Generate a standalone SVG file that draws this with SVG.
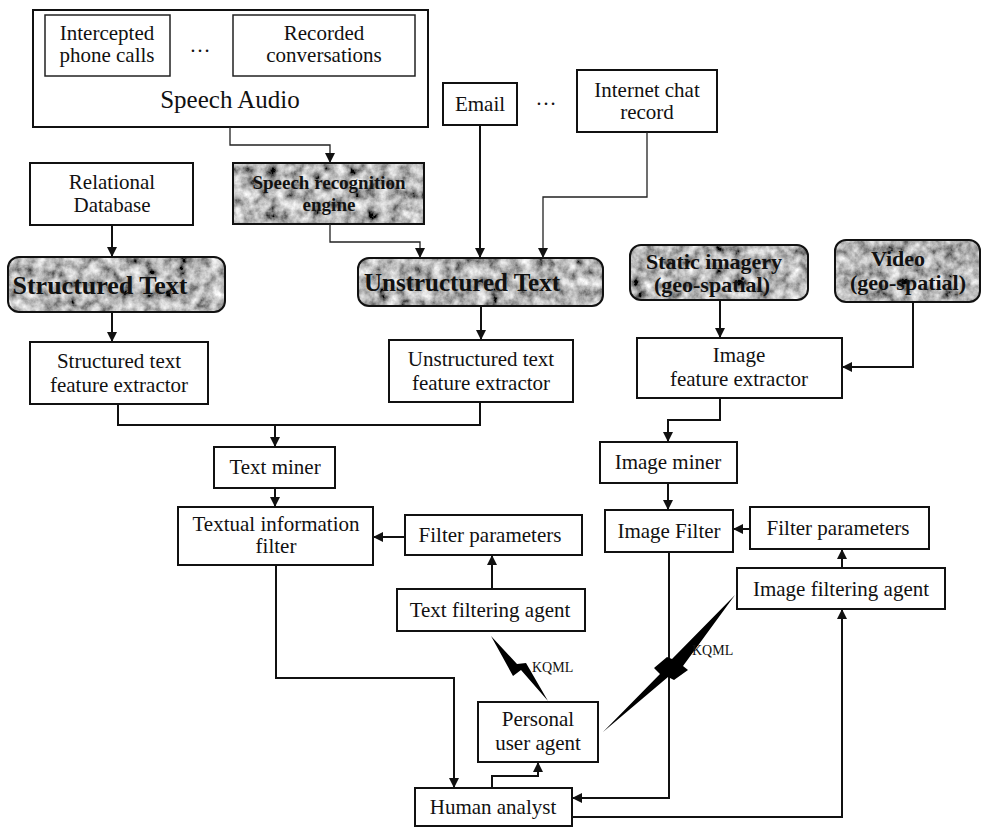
<svg xmlns="http://www.w3.org/2000/svg" width="982" height="829" viewBox="0 0 982 829">
<defs>
<style>
.b{fill:#fff;stroke:#111;stroke-width:2}
.ib{fill:#fff;stroke:#222;stroke-width:1.5}
.sb{fill:none;stroke:#111;stroke-width:2}
.t{font-family:"Liberation Serif","Times New Roman",serif;font-size:21px;fill:#111;text-anchor:middle}
.tb{font-family:"Liberation Serif","Times New Roman",serif;font-weight:bold;fill:#111;text-anchor:middle}
.c{fill:none;stroke:#111;stroke-width:2}
.cl{fill:none;stroke:#222;stroke-width:1.3}
.k{font-family:"Liberation Serif","Times New Roman",serif;font-size:14px;fill:#111}
</style>
<filter id="grain" x="0" y="0" width="100%" height="100%">
<feTurbulence type="fractalNoise" baseFrequency="0.09" numOctaves="4" seed="7" result="n"/>
<feColorMatrix in="n" type="saturate" values="0" result="g"/>
<feComponentTransfer in="g" result="c">
<feFuncR type="linear" slope="1.9" intercept="-0.48"/>
<feFuncG type="linear" slope="1.9" intercept="-0.48"/>
<feFuncB type="linear" slope="1.9" intercept="-0.48"/>
<feFuncA type="linear" slope="0" intercept="1"/>
</feComponentTransfer>
<feComposite in="c" in2="SourceGraphic" operator="in"/>
</filter>
<marker id="ar" viewBox="0 0 10 10" refX="10" refY="5" markerWidth="10" markerHeight="10" markerUnits="userSpaceOnUse" orient="auto">
<path d="M0,0 L10,5 L0,10 Z" fill="#111"/>
</marker>
</defs>

<g id="speech-audio">
<rect class="b" x="33" y="10" width="395" height="117"/>
<rect class="ib" x="45" y="15" width="125" height="61"/>
<text class="t" x="107" y="40">Intercepted</text>
<text class="t" x="107" y="62">phone calls</text>
<text class="t" x="200" y="52">…</text>
<rect class="ib" x="233" y="15" width="182" height="61"/>
<text class="t" x="324" y="40">Recorded</text>
<text class="t" x="324" y="62">conversations</text>
<text class="t" x="230" y="108" style="font-size:25px">Speech Audio</text>
</g>

<g id="email">
<rect class="b" x="443" y="83" width="74" height="42"/>
<text class="t" x="480" y="111">Email</text>
</g>
<text class="t" x="546" y="105">…</text>
<g id="internet-chat">
<rect class="b" x="577" y="70" width="140" height="62"/>
<text class="t" x="647" y="97">Internet chat</text>
<text class="t" x="647" y="119">record</text>
</g>

<g id="relational-db">
<rect class="b" x="30" y="163" width="163" height="62"/>
<text class="t" x="112" y="189">Relational</text>
<text class="t" x="112" y="212">Database</text>
</g>

<g id="speech-recognition">
<rect x="233" y="163" width="191" height="61" fill="#999" filter="url(#grain)"/>
<rect class="sb" x="233" y="163" width="191" height="61"/>
<text class="tb" x="329" y="189" style="font-size:19px">Speech recognition</text>
<text class="tb" x="329" y="211" style="font-size:19px">engine</text>
</g>

<g id="structured-text">
<rect x="8" y="257" width="217" height="55" rx="11" fill="#999" filter="url(#grain)"/>
<rect class="sb" x="8" y="257" width="217" height="55" rx="11"/>
<text class="tb" x="100" y="294" style="font-size:26px">Structured Text</text>
</g>

<g id="unstructured-text">
<rect x="358" y="258" width="245" height="48" rx="11" fill="#999" filter="url(#grain)"/>
<rect class="sb" x="358" y="258" width="245" height="48" rx="11"/>
<text class="tb" x="462" y="291" style="font-size:25px">Unstructured Text</text>
</g>

<g id="static-imagery">
<rect x="630" y="245" width="178" height="55" rx="11" fill="#999" filter="url(#grain)"/>
<rect class="sb" x="630" y="245" width="178" height="55" rx="11"/>
<text class="tb" x="714" y="269" style="font-size:22px">Static imagery</text>
<text class="tb" x="712" y="292" style="font-size:22px">(geo-spatial)</text>
</g>

<g id="video">
<rect x="835" y="240" width="145" height="62" rx="11" fill="#999" filter="url(#grain)"/>
<rect class="sb" x="835" y="240" width="145" height="62" rx="11"/>
<text class="tb" x="898" y="266" style="font-size:22px">Video</text>
<text class="tb" x="908" y="290" style="font-size:22px">(geo-spatial)</text>
</g>

<g id="structured-extractor">
<rect class="b" x="30" y="342" width="178" height="62"/>
<text class="t" x="119" y="368">Structured text</text>
<text class="t" x="119" y="392">feature extractor</text>
</g>

<g id="unstructured-extractor">
<rect class="b" x="389" y="340" width="184" height="62"/>
<text class="t" x="481" y="366">Unstructured text</text>
<text class="t" x="481" y="390">feature extractor</text>
</g>

<g id="image-extractor">
<rect class="b" x="637" y="338" width="205" height="60"/>
<text class="t" x="739" y="362">Image</text>
<text class="t" x="739" y="386">feature extractor</text>
</g>

<g id="text-miner">
<rect class="b" x="214" y="447" width="121" height="41"/>
<text class="t" x="275" y="474">Text miner</text>
</g>

<g id="image-miner">
<rect class="b" x="600" y="442" width="137" height="41"/>
<text class="t" x="668" y="469">Image miner</text>
</g>

<g id="textual-filter">
<rect class="b" x="178" y="507" width="195" height="58"/>
<text class="t" x="276" y="531">Textual information</text>
<text class="t" x="276" y="553">filter</text>
</g>

<g id="text-filter-params">
<rect class="b" x="405" y="515" width="177" height="40"/>
<text class="t" x="490" y="542">Filter parameters</text>
</g>

<g id="image-filter">
<rect class="b" x="605" y="510" width="128" height="42"/>
<text class="t" x="669" y="538">Image Filter</text>
</g>

<g id="image-filter-params">
<rect class="b" x="750" y="507" width="179" height="42"/>
<text class="t" x="838" y="535">Filter parameters</text>
</g>

<g id="text-filtering-agent">
<rect class="b" x="397" y="589" width="188" height="42"/>
<text class="t" x="490" y="617">Text filtering agent</text>
</g>

<g id="image-filtering-agent">
<rect class="b" x="737" y="568" width="208" height="41"/>
<text class="t" x="841" y="596">Image filtering agent</text>
</g>

<g id="personal-agent">
<rect class="b" x="478" y="702" width="120" height="60"/>
<text class="t" x="538" y="726">Personal</text>
<text class="t" x="538" y="750">user agent</text>
</g>

<g id="human-analyst">
<rect class="b" x="415" y="788" width="157" height="38"/>
<text class="t" x="493" y="814">Human analyst</text>
</g>

<g id="connectors">
<path class="cl" d="M230,127 V145 H330 V163" marker-end="url(#ar)"/>
<path class="cl" d="M330,224 V242 H420 V258" marker-end="url(#ar)"/>
<path class="c" d="M480,125 V258" marker-end="url(#ar)"/>
<path class="cl" d="M647,132 V197 H543 V258" marker-end="url(#ar)"/>
<path class="c" d="M112,225 V257" marker-end="url(#ar)"/>
<path class="c" d="M112,312 V342" marker-end="url(#ar)"/>
<path class="c" d="M481,306 V340" marker-end="url(#ar)"/>
<path class="c" d="M720,300 V338" marker-end="url(#ar)"/>
<path class="c" d="M913,302 V367 H842" marker-end="url(#ar)"/>
<path class="c" d="M118,404 V425 H480 V402"/>
<path class="c" d="M275,425 V447" marker-end="url(#ar)"/>
<path class="c" d="M275,488 V507" marker-end="url(#ar)"/>
<path class="c" d="M720,398 V420 H668 V442" marker-end="url(#ar)"/>
<path class="c" d="M668,483 V510" marker-end="url(#ar)"/>
<path class="c" d="M405,537 H373" marker-end="url(#ar)"/>
<path class="c" d="M750,529 H733" marker-end="url(#ar)"/>
<path class="c" d="M492,589 V555" marker-end="url(#ar)"/>
<path class="c" d="M842,568 V549" marker-end="url(#ar)"/>
<path class="c" d="M276,565 V678 H454 V788" marker-end="url(#ar)"/>
<path class="c" d="M492,788 V776 H538 V762" marker-end="url(#ar)"/>
<path class="c" d="M669,552 V798 H572" marker-end="url(#ar)"/>
<path class="c" d="M572,817 H842 V609" marker-end="url(#ar)"/>
<polygon points="491,636 517,664 526,663 548,701 521,670 513,676" fill="#000"/>
<polygon points="603,732 660,674 654,668 667,657 672,659 735,595 683,666 688,670 674,680 668,677" fill="#000"/>
<text class="k" x="532" y="672">KQML</text>
<text class="k" x="692" y="655">KQML</text>
</g>
</svg>
